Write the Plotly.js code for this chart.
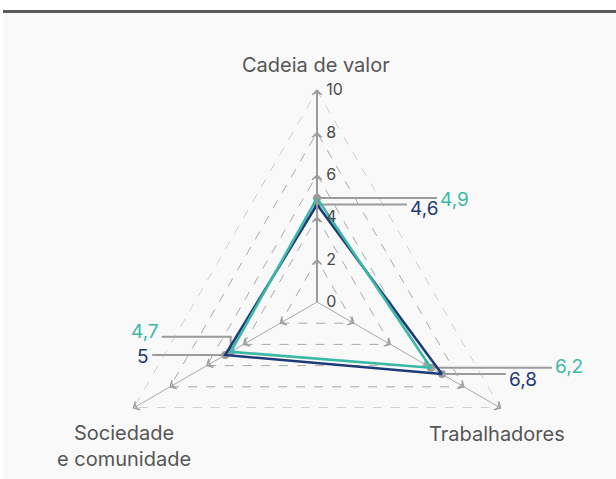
<!DOCTYPE html>
<html>
<head>
<meta charset="utf-8">
<script src="https://cdn.plot.ly/plotly-3.0.1.min.js"></script>
<style>
  html, body { margin: 0; padding: 0; width: 616px; height: 479px; overflow: hidden; background: #fff; }
  #bg { position: absolute; left: 3px; top: 10px; width: 613px; height: 469px;
        background: #f9f9f9; border-top: 3px solid #5a5a5a; box-sizing: border-box; }
  #chart { position: absolute; left: 0; top: 0; width: 616px; height: 560px; }
</style>
</head>
<body>
<div id="bg"></div>
<div id="chart"></div>
<script>
// data
var categories = ['Cadeia de valor', 'Trabalhadores', 'Sociedade e comunidade'];
var serieTeal = [4.9, 6.2, 4.7];
var serieNavy = [4.6, 6.8, 5.0];
var radialTicks = [0, 2, 4, 6, 8, 10];

var teal = '#3bb8a6', navy = '#1f3a78', gray = '#9b9b9b', textColor = '#555';
var font = 'Inter, "Libre Franklin", Roboto, sans-serif';

// page geometry (px)
var W = 616, H = 560;
var cx = 317, cy = 302, R = 212;
var rmax = 10;
var unit = R / rmax;

function fmt(v) {
  return Number.isInteger(v) ? String(v) : String(v).replace('.', ',');
}
function angleOf(i) { return (90 - 120 * i) * Math.PI / 180; }

// leader line offsets in px: [dx, dy(up), text yshift]
var leadTeal = [[120, 0, -1], [121, 0, 1], [-69, 15, 5]];
var leadNavy = [[90, 0, -4], [64, 0, -5], [-73, 0, -1]];

var traces = [];

function closed(a) { return a.concat([a[0]]); }

// outer dashed triangle (grid at the top tick)
traces.push({
  type: 'scatterpolar', mode: 'lines',
  r: closed(categories.map(function () { return radialTicks[radialTicks.length - 1]; })),
  theta: closed(categories),
  line: { color: '#a8a8a8', width: 1, dash: 'dash' }, hoverinfo: 'skip', showlegend: false
});

// tick chevrons along spokes
var chevR = [], chevT = [], chevA = [];
for (var i = 0; i < categories.length; i++) {
  for (var k = 1; k < radialTicks.length; k++) {
    chevR.push(radialTicks[k]);
    chevT.push(categories[i]);
    chevA.push(120 * i);
  }
}
traces.push({
  type: 'scatterpolar', mode: 'markers', r: chevR, theta: chevT, cliponaxis: false,
  marker: { symbol: 'arrow-wide-open', size: 7, color: gray, angle: chevA, line: { color: gray, width: 1.2 } },
  hoverinfo: 'skip', showlegend: false
});

traces.push({
  type: 'scatterpolar', mode: 'lines', name: 'Navy',
  r: closed(serieNavy), theta: closed(categories),
  line: { color: navy, width: 2.6 }, showlegend: false
});
traces.push({
  type: 'scatterpolar', mode: 'lines', name: 'Teal',
  r: closed(serieTeal), theta: closed(categories),
  line: { color: teal, width: 2.6 }, showlegend: false
});

var annotations = [];

function leaders(values, lead, color) {
  var px = [], py = [];
  for (var i = 0; i < values.length; i++) {
    var a = angleOf(i);
    var x0 = values[i] * Math.cos(a), y0 = values[i] * Math.sin(a);
    var dx = lead[i][0] / unit, dy = lead[i][1] / unit;
    traces.push({
      type: 'scatter', mode: 'lines', xaxis: 'x', yaxis: 'y', cliponaxis: false,
      x: [x0, x0, x0 + dx], y: [y0, y0 + dy, y0 + dy],
      line: { color: gray, width: 2 }, hoverinfo: 'skip', showlegend: false
    });
    px.push(x0); py.push(y0);
    annotations.push({
      xref: 'x', yref: 'y', x: x0 + dx, y: y0 + dy, showarrow: false,
      text: fmt(values[i]), xanchor: dx > 0 ? 'left' : 'right', yanchor: 'middle',
      xshift: dx > 0 ? 2 : -2, yshift: lead[i][2], borderpad: 0,
      font: { family: font, size: 19, color: color }
    });
  }
  traces.push({
    type: 'scatter', mode: 'markers', xaxis: 'x', yaxis: 'y', x: px, y: py, cliponaxis: false,
    marker: { color: gray, size: 8 }, hoverinfo: 'skip', showlegend: false
  });
}
leaders(serieNavy, leadNavy, navy);
leaders(serieTeal, leadTeal, teal);

// category labels
var catPos = [[316, 65], [497, 434], [124, 446]];
var catText = ['Cadeia de valor', 'Trabalhadores', 'Sociedade<br>e comunidade'];
for (var i = 0; i < categories.length; i++) {
  annotations.push({
    xref: 'paper', yref: 'paper', x: catPos[i][0] / W, y: 1 - catPos[i][1] / H,
    xanchor: 'center', yanchor: 'middle', showarrow: false, text: catText[i],
    font: { family: font, size: 20, color: textColor }
  });
}

var dom = { x: [(cx - R) / W, (cx + R) / W], y: [1 - (cy + R) / H, 1 - (cy - R) / H] };

var layout = {
  width: W, height: H,
  margin: { l: 0, r: 0, t: 0, b: 0 },
  paper_bgcolor: 'rgba(0,0,0,0)',
  plot_bgcolor: 'rgba(0,0,0,0)',
  showlegend: false,
  font: { family: font, color: textColor },
  polar: {
    domain: dom,
    bgcolor: 'rgba(0,0,0,0)',
    gridshape: 'linear',
    radialaxis: {
      range: [0, rmax], angle: 90, tickvals: radialTicks, tickangle: 90,
      ticks: 'outside', ticklen: 5, tickcolor: 'rgba(0,0,0,0)',
      showline: true, linecolor: gray, linewidth: 2,
      gridcolor: '#a8a8a8', griddash: 'dash', gridwidth: 1,
      tickfont: { family: font, size: 16, color: '#4a4a4a' }
    },
    angularaxis: {
      type: 'category', categoryarray: categories, rotation: 90, direction: 'clockwise',
      showticklabels: false, ticks: '', showline: false,
      gridcolor: '#a8a8a8', gridwidth: 1
    }
  },
  // cartesian overlay spanning the whole paper, same px-per-unit as the polar subplot
  xaxis: { domain: [0, 1], range: [-cx / unit, (W - cx) / unit], visible: false, fixedrange: true },
  yaxis: { domain: [0, 1], range: [(cy - H) / unit, cy / unit], visible: false, fixedrange: true },
  annotations: annotations
};

Plotly.newPlot('chart', traces, layout, { displayModeBar: false, staticPlot: true });
</script>
</body>
</html>
